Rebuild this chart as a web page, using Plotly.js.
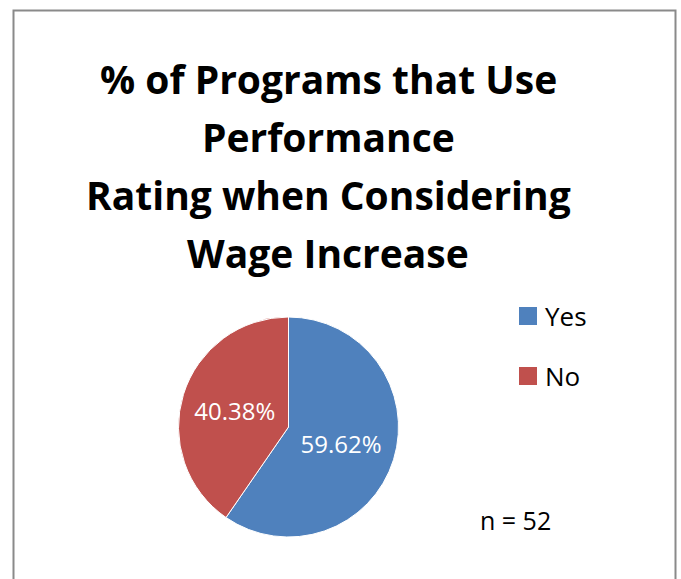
<!DOCTYPE html>
<html>
<head>
<meta charset="utf-8">
<script src="https://cdn.plot.ly/plotly-3.0.1.min.js"></script>
<style>
  html, body { margin: 0; padding: 0; background: #fff; }
  #chart { width: 681px; height: 579px; }
</style>
</head>
<body>
<div id="chart"></div>
<script>
// data (n = 52 programs)
var labels = ["Yes", "No"];
var counts = [31, 21];
var colors = ["#4F81BD", "#C0504D"];
var titleLines = ["% of Programs that Use", "Performance", "Rating when Considering", "Wage Increase"];
var noteText = "n = 52";

var W = 681, H = 579;
// helpers: pixel -> paper coords (margins are zero)
function px(x) { return x / W; }
function py(y) { return 1 - y / H; }

var trace = {
    type: 'pie',
    labels: labels,
    values: counts,
    sort: false,
    direction: 'clockwise',
    rotation: 0,
    marker: { colors: colors, line: { color: '#ffffff', width: 1 } },
    textposition: 'inside',
    insidetextorientation: 'horizontal',
    texttemplate: '%{percent:.2%}',
    textfont: { family: 'Open Sans', size: 24, color: '#ffffff' },
    hoverinfo: 'label+percent',
    showlegend: false,
    domain: { x: [px(178.5), px(398.5)], y: [py(537), py(317)] }
};

var annotations = [];
var titleBase = [92, 150, 209, 266];
titleLines.forEach(function (t, i) {
    annotations.push({
        text: t, showarrow: false, xref: 'paper', yref: 'paper',
        x: px(328), y: py(titleBase[i] - 14), xanchor: 'center', yanchor: 'middle',
        font: { family: 'Open Sans', size: 39, color: '#000', weight: 'bold' }
    });
});

// legend built from labels/colors
var shapes = [];
labels.forEach(function (lab, i) {
    var cy = 316 + i * 60;
    shapes.push({
        type: 'rect', xref: 'paper', yref: 'paper',
        x0: px(519), x1: px(537), y0: py(cy - 9), y1: py(cy + 9),
        fillcolor: colors[i], line: { width: 0 }
    });
    annotations.push({
        text: lab, showarrow: false, xref: 'paper', yref: 'paper',
        x: px(543), y: py(cy), xanchor: 'left', yanchor: 'middle',
        font: { family: 'Open Sans', size: 26, color: '#000' }
    });
});

annotations.push({
    text: noteText, showarrow: false, xref: 'paper', yref: 'paper',
    x: px(515), y: py(520), xanchor: 'center', yanchor: 'middle',
    font: { family: 'Open Sans', size: 25, color: '#000' }
});

// chart area border
shapes.push({
    type: 'rect', xref: 'paper', yref: 'paper',
    x0: px(13.5), x1: px(675.5), y0: py(10.5), y1: py(600),
    line: { color: '#8a8a8a', width: 2 }
});

var layout = {
    width: W,
    height: H,
    margin: { l: 0, r: 0, t: 0, b: 0 },
    paper_bgcolor: '#ffffff',
    showlegend: false,
    annotations: annotations,
    shapes: shapes
};

Plotly.newPlot('chart', [trace], layout, { displayModeBar: false, staticPlot: true });
</script>
</body>
</html>
